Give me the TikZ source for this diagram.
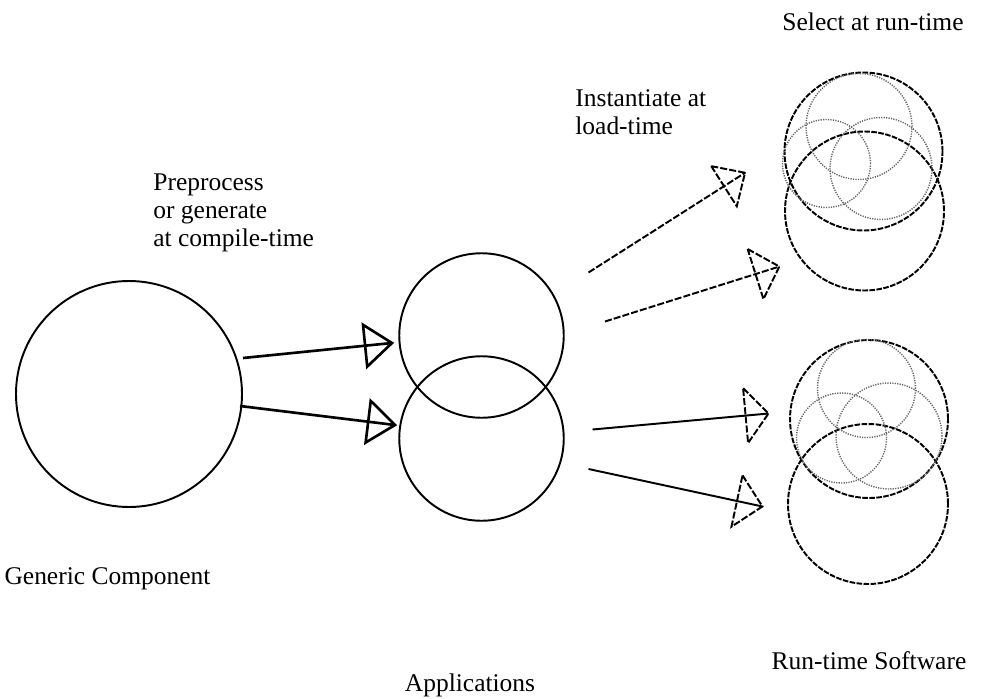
\documentclass[tikz,border=0pt]{standalone}
\usepackage{fontspec}
\setmainfont{Liberation Serif}
\usetikzlibrary{decorations.markings}
\tikzset{
    openhead/.style args={#1 #2 #3}{
        decoration={
            markings,
            mark= at position 1 with
                {
                    \draw[#3, line join=miter] (-#1, #2/2) -- (0pt,0pt) -- (-#1, #2/-2) -- cycle;
                },
        },
        postaction={decorate}
    },
    openhead/.default={0.54cm 0.84cm solid}
}
\tikzset{
    dashline/.style={dash pattern=on 4pt off 1.2pt},
    dashring/.style={draw, circle, inner sep=0pt, line width=1.1pt, dash pattern=on 3.2pt off 0.8pt},
    dotring/.style={draw=black!60, circle, inner sep=0pt, line width=0.8pt, dash pattern=on 0.7pt off 0.7pt}
}

\begin{document}
\begin{tikzpicture}
    \useasboundingbox (0,0) rectangle (19.9,13.96);
    \tikzstyle{ring}=[draw, circle, inner sep=0pt, line width=1.1pt];
    \tikzstyle{caption}=[font=\fontsize{14.5pt}{16pt}\selectfont, align=left, inner sep=0pt];
    % generic component and applications
    \node[ring, minimum size=4.52cm] (gen) at (2.58, 6.08) {};
    \node[ring, minimum size=3.29cm] (app1) at (9.63, 7.25) {};
    \node[ring, minimum size=3.29cm] (app2) at (9.63, 5.19) {};
    % run-time software, upper group
    \node[dashring, minimum size=3.16cm] (sel1) at (17.27, 10.93) {};
    \node[dashring, minimum size=3.18cm] (sel2) at (17.29, 9.74) {};
    \node[dotring, minimum size=2.12cm] (sel3) at (17.18, 11.43) {};
    \node[dotring, minimum size=1.76cm] (sel4) at (16.53, 10.69) {};
    \node[dotring, minimum size=2.04cm] (sel5) at (17.62, 10.59) {};
    % run-time software, lower group
    \node[dashring, minimum size=3.16cm] (run1) at (17.38, 5.58) {};
    \node[dashring, minimum size=3.20cm] (run2) at (17.36, 3.88) {};
    \node[dotring, minimum size=1.96cm] (run3) at (17.33, 6.19) {};
    \node[dotring, minimum size=1.80cm] (run4) at (16.83, 5.20) {};
    \node[dotring, minimum size=2.12cm] (run5) at (17.78, 5.24) {};
    % arrow ends
    \coordinate (g1) at (4.86, 6.80);
    \coordinate (g2) at (4.80, 5.84);
    \coordinate (p1) at (7.84, 7.10);
    \coordinate (p2) at (7.90, 5.46);
    \coordinate (u1) at (11.77, 8.51);
    \coordinate (v1) at (14.91, 10.51);
    \coordinate (u2) at (12.10, 7.53);
    \coordinate (v2) at (15.59, 8.63);
    \coordinate (u3) at (11.85, 5.37);
    \coordinate (v3) at (15.37, 5.69);
    \coordinate (u4) at (11.77, 4.58);
    \coordinate (v4) at (15.25, 3.83);
    \draw[line width=1.5pt, openhead] (g1) -- (p1);
    \draw[line width=1.5pt, openhead] (g2) -- (p2);
    \draw[line width=1.1pt, dashline, openhead={0.5cm 0.95cm dashline}] (u1) -- (v1);
    \draw[line width=1.1pt, dashline, openhead={0.5cm 1.05cm dashline}] (u2) -- (v2);
    \draw[line width=1.1pt, openhead={0.46cm 1.1cm dashline}] (u3) -- (v3);
    \draw[line width=1.1pt, openhead={0.52cm 1.05cm dashline}] (u4) -- (v4);
    % texts
    \node[caption, anchor=base] (select) at (17.46, 13.34) {Select at run-time};
    \node[caption, anchor=north west] (instantiate) at (11.50, 12.18) {Instantiate at\\load-time};
    \node[caption, anchor=north west] (preprocess) at (3.06, 10.50) {Preprocess\\or generate\\at compile-time};
    \node[caption, anchor=base] (generic) at (2.15, 2.28) {Generic Component};
    \node[caption, anchor=base] (software) at (17.38, 0.58) {Run-time Software};
    \node[caption, anchor=base] (applications) at (9.40, 0.14) {Applications};
\end{tikzpicture}
\end{document}
